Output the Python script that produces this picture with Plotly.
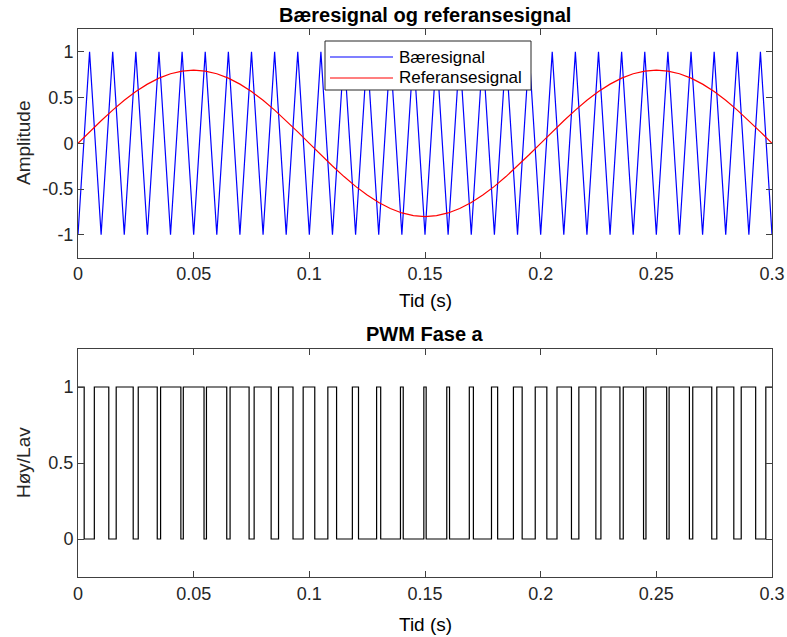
import plotly.graph_objects as go

# ---------------- data ----------------
carrier_t = [0.000, 0.005, 0.010, 0.015, 0.020, 0.025, 0.030, 0.035, 0.040, 0.045,
             0.050, 0.055, 0.060, 0.065, 0.070, 0.075, 0.080, 0.085, 0.090, 0.095,
             0.100, 0.105, 0.110, 0.115, 0.120, 0.125, 0.130, 0.135, 0.140, 0.145,
             0.150, 0.155, 0.160, 0.165, 0.170, 0.175, 0.180, 0.185, 0.190, 0.195,
             0.200, 0.205, 0.210, 0.215, 0.220, 0.225, 0.230, 0.235, 0.240, 0.245,
             0.250, 0.255, 0.260, 0.265, 0.270, 0.275, 0.280, 0.285, 0.290, 0.295,
             0.300]
carrier_v = [-1, 1, -1, 1, -1, 1, -1, 1, -1, 1,
             -1, 1, -1, 1, -1, 1, -1, 1, -1, 1,
             -1, 1, -1, 1, -1, 1, -1, 1, -1, 1,
             -1, 1, -1, 1, -1, 1, -1, 1, -1, 1,
             -1, 1, -1, 1, -1, 1, -1, 1, -1, 1,
             -1, 1, -1, 1, -1, 1, -1, 1, -1, 1,
             -1]

ref_t = carrier_t
ref_v = [0.0, 0.1251, 0.2472, 0.3632, 0.4702, 0.5657, 0.6472, 0.7128, 0.7608, 0.7902,
         0.8, 0.7902, 0.7608, 0.7128, 0.6472, 0.5657, 0.4702, 0.3632, 0.2472, 0.1251,
         0.0, -0.1251, -0.2472, -0.3632, -0.4702, -0.5657, -0.6472, -0.7128, -0.7608, -0.7902,
         -0.8, -0.7902, -0.7608, -0.7128, -0.6472, -0.5657, -0.4702, -0.3632, -0.2472, -0.1251,
         0.0, 0.1251, 0.2472, 0.3632, 0.4702, 0.5657, 0.6472, 0.7128, 0.7608, 0.7902,
         0.8, 0.7902, 0.7608, 0.7128, 0.6472, 0.5657, 0.4702, 0.3632, 0.2472, 0.1251,
         0.0]

pwm_t = [0.0,
         0.00267, 0.00706, 0.01331, 0.01651, 0.02386, 0.02604, 0.03426, 0.03570, 0.04447, 0.04552,
         0.05448, 0.05553, 0.06430, 0.06574, 0.07396, 0.07614, 0.08349, 0.08669, 0.09294, 0.09733,
         0.10235, 0.10800, 0.11178, 0.11860, 0.12126, 0.12908, 0.13085, 0.13939, 0.14059, 0.14950,
         0.15050, 0.15941, 0.16061, 0.16915, 0.17092, 0.17874, 0.18140, 0.18822, 0.19200, 0.19765,
         0.20267, 0.20706, 0.21331, 0.21651, 0.22386, 0.22604, 0.23426, 0.23570, 0.24447, 0.24552,
         0.25448, 0.25553, 0.26430, 0.26574, 0.27396, 0.27614, 0.28349, 0.28669, 0.29294, 0.29733,
         0.3]
pwm_v = [1,
         0, 1, 0, 1, 0, 1, 0, 1, 0, 1,
         0, 1, 0, 1, 0, 1, 0, 1, 0, 1,
         0, 1, 0, 1, 0, 1, 0, 1, 0, 1,
         0, 1, 0, 1, 0, 1, 0, 1, 0, 1,
         0, 1, 0, 1, 0, 1, 0, 1, 0, 1,
         0, 1, 0, 1, 0, 1, 0, 1, 0, 1,
         1]

x_ticks = [0, 0.05, 0.1, 0.15, 0.2, 0.25, 0.3]
x_ticklabels = ["0", "0.05", "0.1", "0.15", "0.2", "0.25", "0.3"]
y1_ticks = [-1, -0.5, 0, 0.5, 1]
y1_ticklabels = ["-1", "-0.5", "0", "0.5", "1"]
y2_ticks = [0, 0.5, 1]
y2_ticklabels = ["0", "0.5", "1"]

series_names = ["Bæresignal", "Referansesignal"]
series_colors = ["#0000FF", "#FF0000"]

# ---------------- figure ----------------
FONT = "Liberation Sans, Arial, sans-serif"
AX = "#404040"
W, H = 787, 637
ML, MR, MT, MB = 78, 15, 29, 60
PH = H - MT - MB
PW = W - ML - MR

def py(pix):
    return (H - MB - pix) / PH

def px(pix):
    return (pix - ML) / PW

fig = go.Figure()
fig.add_trace(go.Scatter(x=carrier_t, y=carrier_v, mode="lines", name=series_names[0],
                         line=dict(color=series_colors[0], width=1.2), xaxis="x", yaxis="y"))
fig.add_trace(go.Scatter(x=ref_t, y=ref_v, mode="lines", name=series_names[1],
                         line=dict(color=series_colors[1], width=1.2), xaxis="x", yaxis="y"))
fig.add_trace(go.Scatter(x=pwm_t, y=pwm_v, mode="lines", name="PWM",
                         line=dict(color="#000000", width=1.2, shape="hv"),
                         xaxis="x2", yaxis="y2"))

axcommon = dict(showline=True, linecolor=AX, linewidth=1, mirror="ticks",
                ticks="inside", ticklen=6, tickcolor=AX, showgrid=False, zeroline=False,
                automargin=False,
                tickfont=dict(family=FONT, size=18, color="#262626"))

fig.update_layout(
    width=W, height=H,
    margin=dict(l=ML, r=MR, t=MT, b=MB, autoexpand=False),
    paper_bgcolor="white", plot_bgcolor="white",
    showlegend=False,
    xaxis=dict(domain=[0, 1], anchor="y", range=[0, 0.3], tickvals=x_ticks,
               ticktext=x_ticklabels, **axcommon),
    yaxis=dict(domain=[py(257.7), 1], anchor="x", range=[-1.25, 1.25], tickvals=y1_ticks,
               ticktext=y1_ticklabels, **axcommon),
    xaxis2=dict(domain=[0, 1], anchor="y2", range=[0, 0.3], tickvals=x_ticks,
                ticktext=x_ticklabels, **axcommon),
    yaxis2=dict(domain=[0, py(349)], anchor="x2", range=[-0.25, 1.25], tickvals=y2_ticks,
                ticktext=y2_ticklabels, **axcommon),
)

# legend box (drawn in paper coordinates)
fig.add_shape(type="rect", xref="paper", yref="paper",
              x0=px(325), x1=px(531), y0=py(90), y1=py(41),
              line=dict(color="#262626", width=1), fillcolor="white", layer="above")
for i, (nm, col) in enumerate(zip(series_names, series_colors)):
    yc = 57 + 21 * i
    fig.add_shape(type="line", xref="paper", yref="paper",
                  x0=px(330), x1=px(393), y0=py(yc), y1=py(yc),
                  line=dict(color=col, width=1.2), layer="above")
    fig.add_annotation(text=nm, x=px(397), y=py(yc), xref="paper", yref="paper",
                       showarrow=False, xanchor="left", yanchor="middle",
                       font=dict(family=FONT, size=17, color="#000000"))

ann = [
    dict(text="<b>Bæresignal og referansesignal</b>", x=0.5, y=py(15), size=20),
    dict(text="<b>PWM Fase a</b>", x=0.5, y=py(334), size=20),
    dict(text="Tid (s)", x=0.5, y=py(300), size=19),
    dict(text="Tid (s)", x=0.5, y=py(625), size=19),
]
for a in ann:
    fig.add_annotation(text=a["text"], x=a["x"], y=a["y"], xref="paper", yref="paper",
                       showarrow=False, xanchor="center", yanchor="middle",
                       font=dict(family=FONT, size=a["size"], color="#000000"))
for txt, yc in [("Amplitude", 143), ("Høy/Lav", 463)]:
    fig.add_annotation(text=txt, x=px(23), y=py(yc), xref="paper", yref="paper",
                       showarrow=False, xanchor="center", yanchor="middle", textangle=-90,
                       font=dict(family=FONT, size=19, color="#262626"))

fig.write_html("out.html", config={"displayModeBar": False})

# remove the default page margin so the figure sits at the window's top-left corner
with open("out.html", "r", encoding="utf-8") as f:
    html = f.read()
html = html.replace("<body>", '<body style="margin:0;padding:0;overflow:hidden">', 1)
with open("out.html", "w", encoding="utf-8") as f:
    f.write(html)
